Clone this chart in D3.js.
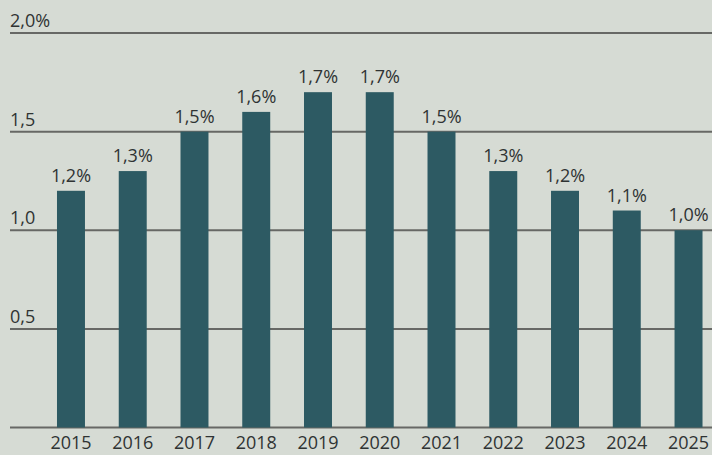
<!DOCTYPE html>
<html>
<head>
<meta charset="utf-8">
<script src="https://cdn.jsdelivr.net/npm/d3@7"></script>
<style>
  html,body{margin:0;padding:0;background:#d6dbd4;}
  svg{display:block;}
  text{font-family:"Open Sans","Noto Sans",sans-serif;fill:#2f3333;}
</style>
</head>
<body>
<svg id="chart" width="712" height="455"></svg>
<script>
const years=["2015","2016","2017","2018","2019","2020","2021","2022","2023","2024","2025"];
const values=[1.2,1.3,1.5,1.6,1.7,1.7,1.5,1.3,1.2,1.1,1.0];
const ticks=[0,0.5,1.0,1.5,2.0];
const tickLabels=["","0,5","1,0","1,5","2,0%"];

const svg=d3.select("#chart");
const width=712, height=455;

svg.append("rect").attr("width",width).attr("height",height).attr("fill","#d6dbd4");

const x=d3.scaleBand().domain(years).range([40.1,719.4]).paddingInner(0.547).paddingOuter(0.2735);
const y=d3.scaleLinear().domain([0,2]).range([427.5,33]);

// gridlines
svg.append("g")
  .selectAll("line")
  .data(ticks)
  .join("line")
  .attr("x1",10).attr("x2",width)
  .attr("y1",d=>y(d)).attr("y2",d=>y(d))
  .attr("stroke","#676865")
  .attr("stroke-width",2);

svg.append("g")
  .selectAll("text")
  .data(ticks)
  .join("text")
  .attr("x",10)
  .attr("y",d=>y(d)-6)
  .attr("font-size","18px")
  .text((d,i)=>tickLabels[i]);

// bars
svg.append("g")
  .selectAll("rect")
  .data(values)
  .join("rect")
  .attr("x",(d,i)=>x(years[i]))
  .attr("width",x.bandwidth())
  .attr("y",d=>y(d))
  .attr("height",d=>y(0)-y(d))
  .attr("fill","#2d5a63");

// value labels
svg.append("g")
  .selectAll("text")
  .data(values)
  .join("text")
  .attr("x",(d,i)=>x(years[i])+x.bandwidth()/2)
  .attr("y",d=>y(d)-9)
  .attr("text-anchor","middle")
  .attr("font-size","18px")
  .text(d=>d.toFixed(1).replace(".",",")+"%");

// year axis
svg.append("g")
  .selectAll("text")
  .data(years)
  .join("text")
  .attr("x",d=>x(d)+x.bandwidth()/2)
  .attr("y",449)
  .attr("text-anchor","middle")
  .attr("font-size","18px")
  .text(d=>d);
</script>
</body>
</html>
